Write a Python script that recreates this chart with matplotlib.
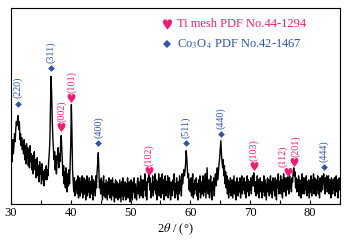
import numpy as np
import matplotlib
matplotlib.use("Agg")
import matplotlib.pyplot as plt

plt.rcParams['font.family'] = ['Liberation Serif', 'DejaVu Sans']
plt.rcParams['mathtext.fontset'] = 'stix'

# 2theta grid (0.1 deg steps from 30 to 85)
two_theta = np.round(np.arange(30.0, 85.01, 0.1), 1)

# intensity (arbitrary units), rows = one degree each
intensity = [
    48, 60, 42, 64, 50, 58, 70, 62, 74, 82,   # 30
    78, 84, 88, 74, 82, 64, 70, 58, 66, 54,   # 31
    62, 50, 64, 44, 58, 40, 60, 46, 56, 38,   # 32
    54, 36, 58, 42, 50, 34, 48, 30, 46, 52,   # 33
    34, 44, 26, 40, 46, 28, 38, 22, 42, 30,   # 34
    36, 20, 40, 24, 32, 18, 34, 24, 30, 38,   # 35
    24, 34, 28, 42, 50, 62, 92, 127, 110, 84, # 36
    66, 54, 44, 52, 34, 48, 30, 42, 50, 56,   # 37
    36, 50, 42, 58, 68, 54, 40, 28, 38, 20,   # 38
    32, 16, 36, 22, 12, 30, 18, 34, 20, 40,   # 39
    60, 99, 70, 34, 22, 12, 26, 8, 22, 14,    # 40
    24, 10, 28, 6, 20, 26, 8, 22, 12, 28,     # 41
    6, 20, 26, 10, 24, 4, 18, 28, 8, 22,      # 42
    12, 26, 6, 22, 10, 28, 14, 4, 24, 12,     # 43
    22, 8, 28, 16, 32, 40, 51, 34, 16, 24,    # 44
    10, 26, 14, 4, 22, 28, 8, 20, 6, 24,      # 45
    14, 4, 22, 10, 26, 6, 20, 24, 4, 16,      # 46
    26, 8, 20, 2, 18, 24, 6, 22, 10, 4,       # 47
    20, 6, 24, 12, 2, 22, 8, 26, 4, 18,       # 48
    8, 22, 4, 20, 10, 26, 6, 16, 22, 2,       # 49
    18, 24, 8, 4, 22, 12, 26, 6, 20, 10,      # 50
    4, 20, 26, 10, 22, 6, 18, 28, 8, 24,      # 51
    12, 6, 24, 14, 30, 8, 22, 4, 20, 26,      # 52
    22, 33, 14, 26, 6, 20, 12, 28, 8, 22,     # 53
    14, 30, 10, 24, 4, 22, 12, 30, 8, 20,     # 54
    26, 6, 20, 30, 10, 24, 4, 18, 28, 8,      # 55
    22, 12, 28, 6, 20, 26, 10, 4, 22, 14,     # 56
    8, 24, 14, 30, 6, 20, 10, 26, 12, 4,      # 57
    22, 10, 28, 14, 24, 8, 30, 20, 26, 34,    # 58
    28, 32, 40, 53, 46, 34, 26, 30, 14, 24,   # 59
    12, 26, 8, 22, 30, 6, 20, 10, 24, 14,     # 60
    26, 8, 20, 4, 24, 12, 28, 6, 22, 10,      # 61
    20, 28, 8, 24, 12, 30, 6, 22, 36, 14,     # 62
    10, 24, 6, 20, 28, 12, 4, 22, 14, 26,     # 63
    8, 22, 30, 18, 26, 36, 24, 32, 40, 46,    # 64
    54, 63, 50, 42, 36, 44, 28, 38, 20, 32,   # 65
    16, 28, 10, 24, 6, 22, 12, 26, 8, 20,     # 66
    24, 6, 18, 28, 10, 22, 4, 20, 26, 12,     # 67
    8, 22, 12, 26, 6, 20, 28, 10, 22, 14,     # 68
    26, 10, 22, 6, 20, 28, 12, 24, 8, 22,     # 69
    14, 26, 10, 22, 28, 18, 31, 24, 12, 22,   # 70
    8, 20, 28, 10, 24, 6, 18, 26, 12, 22,     # 71
    6, 22, 12, 28, 8, 24, 14, 4, 20, 26,      # 72
    12, 24, 8, 20, 28, 10, 22, 6, 26, 14,     # 73
    22, 8, 26, 12, 4, 24, 16, 30, 10, 22,     # 74
    14, 28, 10, 24, 6, 22, 30, 12, 26, 16,    # 75
    8, 26, 14, 27, 22, 10, 28, 16, 24, 12,    # 76
    26, 22, 32, 36, 28, 32, 16, 26, 12, 24,   # 77
    14, 28, 8, 24, 16, 6, 22, 30, 10, 26,     # 78
    16, 10, 26, 14, 28, 8, 22, 12, 24, 6,     # 79
    22, 12, 28, 8, 24, 16, 30, 10, 26, 14,    # 80
    8, 24, 14, 28, 10, 22, 6, 26, 16, 12,     # 81
    28, 14, 24, 30, 22, 10, 26, 16, 28, 12,   # 82
    22, 28, 10, 24, 14, 6, 26, 16, 10, 24,    # 83
    14, 26, 8, 22, 28, 12, 24, 6, 20, 26,     # 84
    14,                                       # 85
]

# peak annotations
peak_pos = [31.2, 36.7, 38.4, 40.1, 44.6, 53.1, 59.3, 65.1, 70.6, 76.3, 77.4, 82.3]
peak_label_pos = [31.2, 36.7, 38.4, 40.1, 44.6, 53.1, 59.3, 65.1, 70.6, 75.5, 77.6, 82.3]
peak_mark = [100, 135, 77, 105, 61, 33, 61, 70, 38, 32, 42, 37]
peak_label = ['(220)', '(311)', '(002)', '(101)', '(400)', '(102)', '(511)',
              '(440)', '(103)', '(112)', '(201)', '(444)']
peak_phase = ['Co', 'Co', 'Ti', 'Ti', 'Co', 'Ti', 'Co', 'Co', 'Ti', 'Ti', 'Ti', 'Co']

legend_labels = ['Ti mesh PDF No.44-1294', 'Co$_3$O$_4$ PDF No.42-1467']

PINK = '#EC1E74'
BLUE = '#2C55A8'

fig = plt.figure(figsize=(3.54, 2.44), dpi=100)
ax = fig.add_axes([0.031, 0.164, 0.929, 0.803])

ax.plot(two_theta, intensity, color='black', lw=1.0)

for x, xl, h, lab, ph in zip(peak_pos, peak_label_pos, peak_mark, peak_label, peak_phase):
    if ph == 'Ti':
        ax.plot([x], [h], marker='$\u2665$', color=PINK, ms=6.5, mew=0)
        col = PINK
    else:
        ax.plot([x], [h], marker='D', color=BLUE, ms=3.4, mew=0)
        col = BLUE
    ax.text(xl, h + 5, lab, rotation=90, ha='center', va='bottom',
            fontsize=7.2, color=col)

# legend
ax.plot([0.474], [0.918], transform=ax.transAxes, marker='$\u2665$',
        color=PINK, ms=7.5, mew=0, clip_on=False)
ax.text(0.505, 0.918, legend_labels[0], transform=ax.transAxes,
        fontsize=9, color=PINK, va='center', ha='left')
ax.plot([0.474], [0.815], transform=ax.transAxes, marker='D',
        color=BLUE, ms=3.8, mew=0, clip_on=False)
ax.text(0.505, 0.815, legend_labels[1], transform=ax.transAxes,
        fontsize=9, color=BLUE, va='center', ha='left')

ax.set_xlim(30, 85)
ax.set_ylim(0, 195)
ax.set_yticks([])
ax.set_xticks([30, 40, 50, 60, 70, 80])
ax.set_xticks([35, 45, 55, 65, 75, 85], minor=True)
ax.tick_params(axis='x', which='both', direction='in', length=3, width=0.8,
               labelsize=9, pad=2)
for s in ax.spines.values():
    s.set_linewidth(0.8)
ax.set_xlabel('2$\\theta$ / (°)', fontsize=9, labelpad=2)

fig.savefig('out.png', dpi=100)
